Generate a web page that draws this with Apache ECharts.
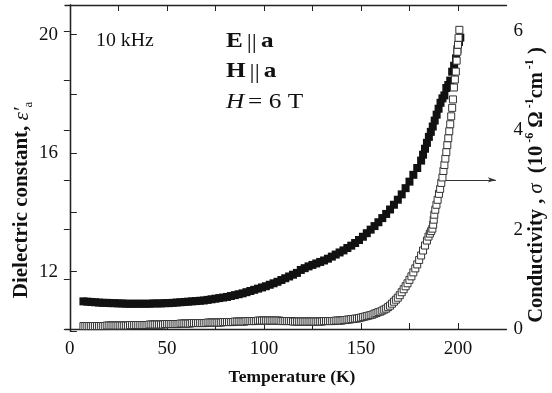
<!DOCTYPE html>
<html>
<head>
<meta charset="utf-8">
<script src="https://cdn.jsdelivr.net/npm/echarts@6/dist/echarts.min.js"></script>
<style>html,body{margin:0;padding:0;background:#fff}#c{width:552px;height:393px}</style>
</head>
<body>
<div id="c"></div>
<script>
// Dielectric constant ε'a vs temperature (filled squares, left axis)
const epsT = [7,9,11,13,15,17,19,21,23,25,27,29,31,33,35,37,39,41,43,45,47,49,51,53,55,57,59,61,63,65,67,69,71,73,75,77,79,81,83,85,87,89,91,93,95,97,99,101,103,105,107,109,111,113,115,117,119,121,123,125,127,129,131,133,135,137,139,141,143,145,147,149,151,153,155,157,159,161,163,165,167,169,171,173,175,177,179,181,182,183,184,185,186,187,188,189,190,191,192,193,194,195,196,197,198,199,199.7,200.5,201.2];
const epsV = [11.00,10.99,10.98,10.97,10.96,10.95,10.95,10.94,10.94,10.93,10.93,10.92,10.92,10.92,10.92,10.92,10.92,10.92,10.93,10.93,10.93,10.94,10.94,10.95,10.96,10.97,10.98,10.99,11.00,11.01,11.02,11.03,11.05,11.07,11.09,11.11,11.13,11.15,11.18,11.21,11.24,11.27,11.31,11.35,11.39,11.43,11.47,11.51,11.56,11.61,11.66,11.72,11.78,11.84,11.90,11.96,12.06,12.12,12.18,12.23,12.28,12.33,12.38,12.44,12.51,12.58,12.65,12.72,12.80,12.88,12.97,13.07,13.18,13.30,13.42,13.54,13.67,13.81,13.95,14.10,14.26,14.43,14.61,14.82,15.04,15.27,15.50,15.75,15.95,16.15,16.35,16.55,16.72,16.90,17.10,17.30,17.50,17.70,17.85,17.95,18.20,18.30,18.45,18.75,18.95,19.20,19.50,19.75,19.90];
// Conductivity σ vs temperature (open squares, right axis)
const sigT = [7,8,9,10,11,12,13,14,15,16,17,18,19,20,21,22,23,24,25,26,27,28,29,30,31,32,33,34,35,36,37,38,39,40,41,42,43,44,45,46,47,48,49,50,51,52,53,54,55,56,57,58,59,60,61,62,63,64,65,66,67,68,69,70,71,72,73,74,75,76,77,78,79,80,81,82,83,84,85,86,87,88,89,90,91,92,93,94,95,96,97,98,99,100,101,102,103,104,105,106,107,108,109,110,111,112,113,114,115,116,117,118,119,120,121,122,123,124,125,126,127,128,129,130,131,132,133,134,135,136,137,138,139,140,141,142,143,144,145,146,147,148,149,150,151,152,153,154,155,156,157,158,159,160,161,162,163,164,165,166,167,168,169,170,171,172,173,174,175,176,177,178,179,180,181,182,183,184,184.8,185.5,186.2,186.8,187.2,187.5,187.8,188.3,188.9,189.5,190.2,190.8,191.4,192,192.5,193,193.5,194,194.5,195,195.5,196,196.5,197,197.4,197.9,198.4,198.9,199.3,199.7,200,200.3,200.7];
const sigV = [0.06,0.06,0.06,0.06,0.06,0.06,0.06,0.06,0.06,0.06,0.06,0.06,
  0.07,0.07,0.07,0.07,0.07,0.07,0.07,0.07,0.07,0.07,0.07,0.07,
  0.08,0.08,0.08,0.08,0.08,0.08,0.08,0.08,0.08,0.08,
  0.09,0.09,0.09,0.09,0.09,0.09,0.09,0.09,
  0.10,0.10,0.10,0.10,0.10,0.10,0.10,0.10,
  0.11,0.11,0.11,0.11,0.11,0.11,
  0.12,0.12,0.12,0.12,0.12,0.12,0.12,0.12,
  0.13,0.13,0.13,0.13,0.13,0.13,0.13,0.13,
  0.14,0.14,0.14,0.14,0.14,0.14,
  0.15,0.15,0.15,0.15,0.15,0.15,
  0.16,0.16,0.16,0.16,0.16,0.16,
  0.17,0.17,0.17,0.17,0.17,0.17,0.17,0.17,0.17,0.17,0.17,0.17,
  0.16,0.16,0.16,0.16,0.16,0.16,
  0.15,0.15,0.15,0.15,0.15,0.15,0.15,0.15,0.15,0.15,0.15,0.15,0.15,0.15,0.15,0.15,
  0.16,0.16,0.16,0.16,0.16,0.16,
  0.17,0.17,0.17,0.17,
  0.18,0.18,0.19,0.19,0.20,0.20,0.21,0.21,0.22,0.23,0.24,0.25,0.26,0.27,0.28,0.29,0.31,0.32,0.34,0.35,0.37,0.39,0.41,0.44,0.47,
  0.51,0.55,0.59,0.63,0.68,0.74,0.80,0.86,0.92,0.99,1.06,1.14,1.22,1.30,1.39,1.48,1.58,1.68,1.78,1.86,1.92,1.97,2.02,2.10,2.20,2.30,2.40,2.50,2.60,2.72,2.82,2.94,3.05,3.18,3.30,3.43,3.56,3.70,3.84,3.98,4.12,4.28,4.45,4.62,4.86,5.02,5.18,5.40,5.58,5.72,5.86,6.02];
// Axis ticks and labels
const xTicks = [0,25,50,75,100,125,150,175,200];
const xLabels = [0,50,100,150,200];
const sigTicks = [0,1,2,3,4,5,6];
const sigLabels = [0,2,4,6];
// Arrow pointing from the σ curve to the right axis
const arrowFrom = [193.7, 3];
const arrowTo = [219.5, 3];

const epsData = epsT.map((t,i)=>[t,epsV[i]]);
const sigData = sigT.map((t,i)=>[t,sigV[i]]);

const FONT = 'Liberation Serif';
const axisLine = {lineStyle:{color:'#222',width:1.3}};
const chart = echarts.init(document.getElementById('c'), null, {renderer:'canvas'});
chart.setOption({
  animation:false,
  backgroundColor:'#fff',
  grid:{left:65,right:45.5,top:5,bottom:62},
  xAxis:[{
    type:'value',min:-2.5,max:225,position:'bottom',
    axisLine:axisLine,splitLine:{show:false},
    axisTick:{inside:true,length:6,customValues:xTicks,lineStyle:{color:'#222'}},
    axisLabel:{customValues:xLabels,color:'#111',fontFamily:FONT,fontSize:19,margin:9}
  },{
    type:'value',min:-2.5,max:225,position:'top',
    axisLine:axisLine,splitLine:{show:false},
    axisTick:{inside:true,length:6,customValues:xTicks,lineStyle:{color:'#222'}},
    axisLabel:{show:false}
  }],
  yAxis:[{
    type:'value',min:10,max:21,interval:2,position:'left',
    axisLine:axisLine,splitLine:{show:false},
    axisTick:{inside:true,length:7,lineStyle:{color:'#222'}},
    axisLabel:{color:'#111',fontFamily:FONT,fontSize:19,margin:7,
      formatter:v=>(v%4===0?String(v):'')}
  },{
    type:'value',min:-0.04,max:6.52,position:'right',
    axisLine:axisLine,splitLine:{show:false},
    axisTick:{inside:true,length:6,customValues:sigTicks,lineStyle:{color:'#222'}},
    axisLabel:{customValues:sigLabels,color:'#111',fontFamily:FONT,fontSize:19,margin:7}
  }],
  series:[{
    type:'scatter',xAxisIndex:0,yAxisIndex:0,data:epsData,
    symbol:'rect',symbolSize:8,itemStyle:{color:'#111',opacity:1},silent:true
  },{
    type:'scatter',xAxisIndex:0,yAxisIndex:1,data:sigData,
    symbol:'rect',symbolSize:7,itemStyle:{color:'#fff',borderColor:'#333',borderWidth:1,opacity:1},silent:true,
    markLine:{silent:true,symbol:['none','arrow'],symbolSize:[4,8],
      lineStyle:{color:'#333',width:1,type:'solid'},label:{show:false},
      data:[[{coord:arrowFrom},{coord:arrowTo}]]}
  }],
  graphic:[
    {type:'text',x:292,y:377,style:{text:'Temperature (K)',font:'bold 17.5px "Liberation Serif"',fill:'#111',align:'center',verticalAlign:'middle'}},
    {type:'text',left:96,top:32,style:{text:'10 kHz',font:'18px "Liberation Serif"',fill:'#111'},scaleX:1.1},
    {type:'text',x:226,y:42,scaleX:1.2,style:{text:'{b|E} {r|||} {b|a}',fill:'#111',verticalAlign:'middle',
      rich:{b:{fontFamily:FONT,fontWeight:'bold',fontSize:21},r:{fontFamily:FONT,fontSize:21}}}},
    {type:'text',x:226,y:72,scaleX:1.2,style:{text:'{b|H} {r|||} {b|a}',fill:'#111',verticalAlign:'middle',
      rich:{b:{fontFamily:FONT,fontWeight:'bold',fontSize:21},r:{fontFamily:FONT,fontSize:21}}}},
    {type:'text',x:226,y:102,scaleX:1.15,style:{text:'{i|H} {r|= 6 T}',fill:'#111',verticalAlign:'middle',
      rich:{i:{fontFamily:FONT,fontStyle:'italic',fontSize:22},r:{fontFamily:FONT,fontSize:22}}}},
    {type:'text',x:22,y:200,rotation:Math.PI/2,
      style:{text:'{b|Dielectric constant, }{i|ε′}{s|a}',fill:'#111',align:'center',verticalAlign:'middle',
      rich:{b:{fontFamily:FONT,fontWeight:'bold',fontSize:21,lineHeight:26},
            i:{fontFamily:FONT,fontStyle:'italic',fontSize:21,lineHeight:26},
            s:{fontFamily:FONT,fontSize:13,lineHeight:14,verticalAlign:'bottom'}}}},
    {type:'text',x:537,y:185,rotation:Math.PI/2,
      style:{text:'{b|Conductivity , }{i|σ}{b|  (10}{p| -6}{b| Ω}{p| -1}{b|cm}{p| -1}{b| )}',fill:'#111',align:'center',verticalAlign:'middle',
      rich:{b:{fontFamily:FONT,fontWeight:'bold',fontSize:20.5,lineHeight:26},
            i:{fontFamily:FONT,fontStyle:'italic',fontSize:20.5,lineHeight:26},
            p:{fontFamily:FONT,fontWeight:'bold',fontSize:12,lineHeight:14,verticalAlign:'top'}}}}
  ]
});
</script>
</body>
</html>
